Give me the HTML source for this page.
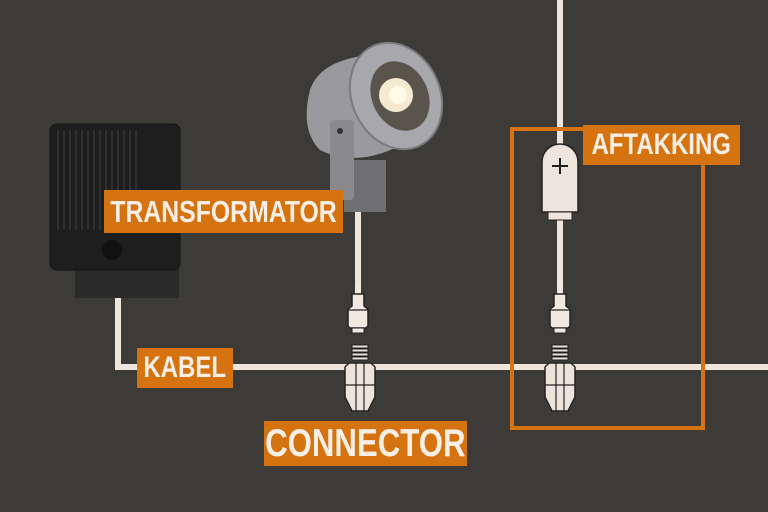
<!DOCTYPE html>
<html><head><style>
body{margin:0;width:768px;height:512px;overflow:hidden;background:#3d3b38;font-family:"Liberation Sans",sans-serif}
.lbl{position:absolute;background:#d4730f;color:#f7efe6;font-weight:bold;display:flex;align-items:center;justify-content:center;white-space:nowrap}
.lbl span{display:inline-block;transform:scaleX(0.8)}
</style></head><body>
<svg width="768" height="512" style="position:absolute;left:0;top:0">
<defs>
<g id="plug">
<rect x="-3" y="-10" width="6" height="12" fill="#f1e9e0"/>
<path d="M-6 0 h12 v12 l4 3 v17 l-2 2 h-16 l-2 -2 v-17 l4 -3z" fill="#f1e9e0" stroke="#222" stroke-width="1.5"/>
<line x1="-10" y1="16" x2="10" y2="16" stroke="#222" stroke-width="1.2"/>
<rect x="-6" y="34" width="12" height="5" fill="#f1e9e0" stroke="#222" stroke-width="1"/>
</g>
<g id="fem">
<g fill="#e8e0d6" stroke="#222" stroke-width="1">
<rect x="-8" y="0" width="16" height="3"/><rect x="-8" y="4" width="16" height="3"/><rect x="-8" y="8" width="16" height="3"/><rect x="-8" y="12" width="16" height="3"/>
</g>
<path d="M-15 22 l4 -4 h22 l4 4 v18 v12 l-7 14 h-16 l-7 -14z" fill="#ece4da" stroke="#222" stroke-width="1.5"/>
<line x1="-4" y1="18" x2="-4" y2="66" stroke="#222" stroke-width="1.2"/>
<line x1="4" y1="18" x2="4" y2="66" stroke="#222" stroke-width="1.2"/>
<line x1="-15" y1="40" x2="15" y2="40" stroke="#222" stroke-width="1.2"/>
</g>
</defs>
<path d="M118 295 V367 H768" stroke="#eee6dc" stroke-width="6" fill="none"/>
<line x1="560" y1="0" x2="560" y2="150" stroke="#eee6dc" stroke-width="6"/>
<line x1="560" y1="212" x2="560" y2="290" stroke="#eee6dc" stroke-width="6"/>
<line x1="358" y1="205" x2="358" y2="290" stroke="#eee6dc" stroke-width="6"/>
<rect x="75" y="200" width="104" height="98" fill="#2a2a2a"/>
<rect x="50" y="124" width="130" height="146" rx="7" fill="#1e1e1e" stroke="#111"/>
<g stroke="#333" stroke-width="1.5">
<line x1="58" y1="130" x2="58" y2="230"/><line x1="64" y1="130" x2="64" y2="230"/><line x1="70" y1="130" x2="70" y2="230"/><line x1="76" y1="130" x2="76" y2="230"/><line x1="82" y1="130" x2="82" y2="230"/><line x1="88" y1="130" x2="88" y2="230"/><line x1="94" y1="130" x2="94" y2="230"/><line x1="100" y1="130" x2="100" y2="230"/><line x1="106" y1="130" x2="106" y2="230"/><line x1="112" y1="130" x2="112" y2="230"/><line x1="118" y1="130" x2="118" y2="230"/><line x1="124" y1="130" x2="124" y2="230"/><line x1="130" y1="130" x2="130" y2="230"/><line x1="136" y1="130" x2="136" y2="230"/>
</g>
<circle cx="112" cy="250" r="10" fill="#111"/>
<rect x="344" y="160" width="42" height="52" fill="#6f6f72"/>
<path d="M310 90 Q320 60 370 55 L410 140 Q360 170 320 150 Q300 130 310 90z" fill="#9a9a9e"/>
<rect x="330" y="120" width="24" height="80" rx="4" fill="#8a8a8e"/>
<ellipse cx="396" cy="96" rx="44" ry="55" transform="rotate(-25 396 96)" fill="#a8a8ac" stroke="#7a7a7e" stroke-width="2"/>
<ellipse cx="400" cy="96" rx="28" ry="36" transform="rotate(-25 400 96)" fill="#5a554c"/>
<circle cx="396" cy="95" r="17" fill="#f5ead0"/>
<circle cx="398" cy="95" r="9" fill="#fffbe8"/>
<circle cx="340" cy="131" r="3" fill="#333"/>
<path d="M542 212 V162 a18 18 0 0 1 36 0 V212z" fill="#ede5db" stroke="#222" stroke-width="1.5"/>
<rect x="548" y="212" width="24" height="8" fill="#ede5db" stroke="#222"/>
<path d="M560 158 v16 M552 166 h16" stroke="#222" stroke-width="2"/>
<use href="#plug" x="358" y="294"/>
<use href="#plug" x="560" y="294"/>
<use href="#fem" x="360" y="345"/>
<use href="#fem" x="560" y="345"/>
<rect x="512" y="129" width="191" height="299" fill="none" stroke="#d4730f" stroke-width="4"/>
</svg>
<div class="lbl" style="left:104px;top:190px;width:239px;height:43px;font-size:31px"><span>TRANSFORMATOR</span></div>
<div class="lbl" style="left:583px;top:125px;width:157px;height:40px;font-size:30px"><span>AFTAKKING</span></div>
<div class="lbl" style="left:137px;top:348px;width:96px;height:40px;font-size:30px"><span>KABEL</span></div>
<div class="lbl" style="left:264px;top:421px;width:203px;height:45px;font-size:39px"><span>CONNECTOR</span></div>
</body></html>
